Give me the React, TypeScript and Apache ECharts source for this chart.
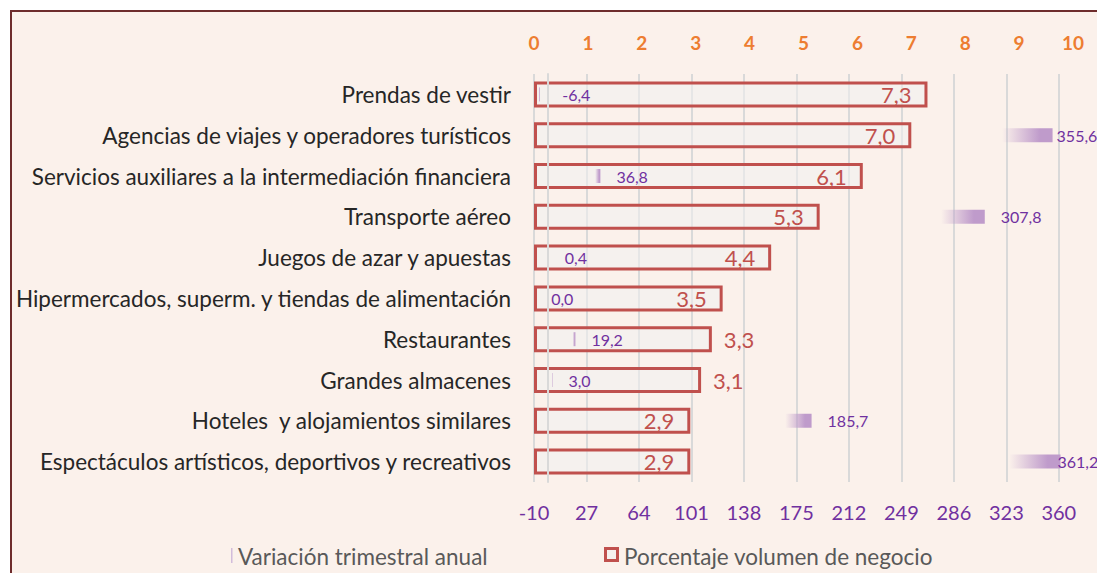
import React, { useEffect, useRef } from "react";
import * as echarts from "echarts";

const categories = [
  "Prendas de vestir",
  "Agencias de viajes y operadores turísticos",
  "Servicios auxiliares a la intermediación financiera",
  "Transporte aéreo",
  "Juegos de azar y apuestas",
  "Hipermercados, superm. y tiendas de alimentación",
  "Restaurantes",
  "Grandes almacenes",
  "Hoteles  y alojamientos similares",
  "Espectáculos artísticos, deportivos y recreativos",
];
const volumenNegocio = [7.3, 7.0, 6.1, 5.3, 4.4, 3.5, 3.3, 3.1, 2.9, 2.9];
const variacionAnual = [-6.4, 355.6, 36.8, 307.8, 0.4, 0.0, 19.2, 3.0, 185.7, 361.2];
// red labels placed outside the box for these rows
const volumenOutside = [false, false, false, false, false, false, true, true, false, false];
// purple label distance from bar end
const variacionLabelDist = [14, 4, 16, 16, 16, 3, 16, 16, 16, -3];

const topAxis = { min: 0, max: 10, interval: 1 };
const bottomAxis = { min: -10, max: 370, interval: 37 };

const seriesNames = ["Variación trimestral anual", "Porcentaje volumen de negocio"];

const FONT = "Lato";
const fmt = (v: number) => v.toFixed(1).replace(".", ",");

function purpleGradient(reverse: boolean) {
  const c0 = "rgba(191,155,203,0)";
  const c1 = "rgba(191,155,203,1)";
  const stops = reverse
    ? [
        { offset: 0, color: c1 },
        { offset: 0.03, color: c1 },
        { offset: 0.1, color: c0 },
        { offset: 1, color: c0 },
      ]
    : [
        { offset: 0, color: c0 },
        { offset: 0.9, color: c0 },
        { offset: 0.975, color: c1 },
        { offset: 1, color: c1 },
      ];
  return new echarts.graphic.LinearGradient(0, 0, 1, 0, stops);
}

export default function App() {
  const ref = useRef<HTMLDivElement>(null);
  useEffect(() => {
    if (!ref.current) return;
    const chart = echarts.init(ref.current, undefined, { renderer: "svg" });
    chart.setOption({
      animation: false,
      backgroundColor: "transparent",
      textStyle: { fontFamily: FONT },
      grid: { left: 534, right: 24, top: 74, bottom: 91, containLabel: false },
      xAxis: [
        {
          type: "value",
          position: "top",
          min: topAxis.min,
          max: topAxis.max,
          interval: topAxis.interval,
          axisLine: { show: false },
          axisTick: { show: false },
          splitLine: { show: false },
          axisLabel: { color: "#ED7D31", fontWeight: "bold", fontSize: 19, margin: 22, fontFamily: FONT },
        },
        {
          type: "value",
          position: "bottom",
          min: bottomAxis.min,
          max: bottomAxis.max,
          interval: bottomAxis.interval,
          axisLine: { show: false },
          axisTick: { show: false },
          splitLine: { show: true, showMaxLine: false, lineStyle: { color: "#D9D9D9", width: 2 } },
          axisLabel: { color: "#7030A0", fontSize: 20, margin: 20, showMaxLabel: false, fontFamily: FONT },
        },
      ],
      yAxis: [
        {
          type: "category",
          inverse: true,
          data: categories,
          z: 3,
          axisTick: { show: false },
          axisLine: { show: true, onZero: true, onZeroAxisIndex: 1, lineStyle: { color: "#D9D9D9", width: 2 } },
          axisLabel: { color: "#262626", fontSize: 22.5, margin: 23, fontFamily: FONT },
        },
        {
          type: "category",
          inverse: true,
          data: categories,
          show: false,
        },
      ],
      series: [
        {
          name: seriesNames[1],
          type: "bar",
          xAxisIndex: 0,
          yAxisIndex: 0,
          barWidth: 26,
          z: 2,
          itemStyle: { color: "rgba(240,240,240,0.55)", borderColor: "#C0504D", borderWidth: 3 },
          label: {
            show: true,
            fontSize: 22,
            color: "#C0504D",
            fontFamily: FONT,
            formatter: (p: any) => fmt(p.value),
          },
          data: volumenNegocio.map((v, i) => ({
            value: v,
            label: volumenOutside[i]
              ? { position: "right", distance: 12 }
              : { position: "insideRight", distance: 16 },
          })),
        },
        {
          name: seriesNames[0],
          type: "bar",
          xAxisIndex: 1,
          yAxisIndex: 1,
          barWidth: 14,
          z: 4,
          label: {
            show: true,
            position: "right",
            fontSize: 16,
            color: "#7030A0",
            fontFamily: FONT,
            formatter: (p: any) => fmt(p.value),
          },
          data: variacionAnual.map((v, i) => ({
            value: v,
            itemStyle: { color: purpleGradient(v < 0) },
            label: { distance: variacionLabelDist[i] },
          })),
        },
      ],
      graphic: [
        {
          type: "rect",
          shape: { x: 231, y: 548, width: 1.5, height: 15 },
          style: { fill: "#D2BCDB" },
          silent: true,
        },
        {
          type: "text",
          x: 238,
          y: 556,
          style: {
            text: seriesNames[0],
            fill: "#595959",
            font: `22.5px ${FONT}`,
            verticalAlign: "middle",
          },
          silent: true,
        },
        {
          type: "rect",
          shape: { x: 605.5, y: 548.5, width: 12, height: 12 },
          style: { fill: "#F5F0EE", stroke: "#C0504D", lineWidth: 3 },
          silent: true,
        },
        {
          type: "text",
          x: 624,
          y: 556,
          style: {
            text: seriesNames[1],
            fill: "#595959",
            font: `22.5px ${FONT}`,
            verticalAlign: "middle",
          },
          silent: true,
        },
      ],
    });
    return () => chart.dispose();
  }, []);

  return (
    <div style={{ position: "fixed", left: 0, top: 0, width: 1097, height: 573, background: "#fff", overflow: "hidden" }}>
      <div
        style={{
          position: "absolute",
          left: 10,
          top: 10,
          width: 1200,
          height: 700,
          border: "2px solid #6E2C2C",
          background: "#FBF1EB",
        }}
      />
      <div ref={ref} style={{ position: "absolute", left: 0, top: 0, width: 1097, height: 573 }} />
    </div>
  );
}
